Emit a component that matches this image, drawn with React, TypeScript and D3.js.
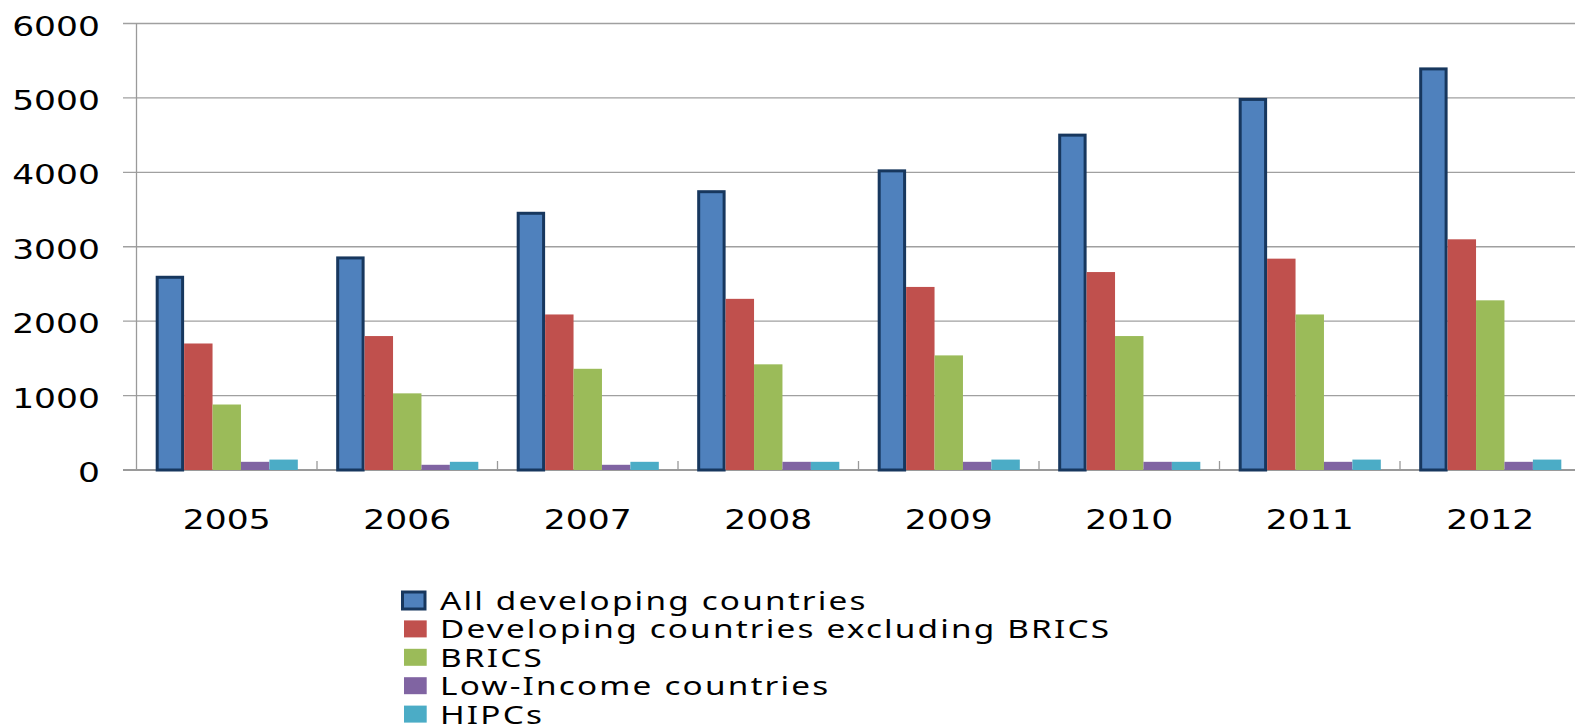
import React from "react";
import * as d3 from "d3";

const years = ["2005", "2006", "2007", "2008", "2009", "2010", "2011", "2012"];
const seriesNames = [
  "All developing countries",
  "Developing countries excluding BRICS",
  "BRICS",
  "Low-Income countries",
  "HIPCs",
];
const allDeveloping = [2610, 2870, 3470, 3760, 4040, 4520, 5000, 5410];
const excludingBrics = [1700, 1800, 2090, 2300, 2460, 2660, 2840, 3100];
const brics = [880, 1030, 1360, 1420, 1540, 1800, 2090, 2280];
const lowIncome = [110, 70, 70, 110, 110, 110, 110, 110];
const hipcs = [140, 110, 110, 110, 140, 110, 140, 140];
const yTicks = [0, 1000, 2000, 3000, 4000, 5000, 6000];
const colors = ["#4F81BD", "#C0504D", "#9BBB59", "#8064A2", "#4BACC6"];

const seriesValues = [allDeveloping, excludingBrics, brics, lowIncome, hipcs];

const W = 1575;
const H = 725;
const plotLeft = 136.5;
const catWidth = 180.5;
const y0 = 470;
const yTop = 23.5;
const gridLeft = 123;

export default function App() {
  const x = d3
    .scaleBand<string>()
    .domain(years)
    .range([plotLeft, plotLeft + catWidth * years.length])
    .paddingInner(0)
    .paddingOuter(0);
  const gap = (x.bandwidth() / (5 + 1.35)) * 1.35;
  const xs = d3
    .scaleBand<number>()
    .domain(d3.range(seriesNames.length))
    .range([gap / 2, x.bandwidth() - gap / 2])
    .padding(0);
  const y = d3.scaleLinear().domain([0, 6000]).range([y0, yTop]);

  const axisFont = "'DejaVu Sans', Verdana, sans-serif";
  const axisFs = 27.4;
  const axisSx = 1.26;
  const legFont = "'Noto Sans', sans-serif";
  const legFs = 24.5;
  const legSx = 1.36;

  return (
    <svg
      width={W}
      height={H}
      style={{ position: "absolute", left: 0, top: 0, background: "#fff" }}
    >
      <rect x={0} y={0} width={W} height={H} fill="#fff" />
      {yTicks.map((t) => (
        <line
          key={"g" + t}
          x1={gridLeft}
          x2={W}
          y1={y(t)}
          y2={y(t)}
          stroke={t === 0 ? "#9a9a9a" : "#a0a0a0"}
          strokeWidth={t === 0 ? 2 : 1.3}
        />
      ))}
      <line x1={plotLeft} x2={plotLeft} y1={yTop} y2={y0} stroke="#9a9a9a" strokeWidth={1.3} />
      {years.map((yr) => (
        <line
          key={"t" + yr}
          x1={(x(yr) as number) + catWidth}
          x2={(x(yr) as number) + catWidth}
          y1={y0 - 9}
          y2={y0}
          stroke="#9a9a9a"
          strokeWidth={1.3}
        />
      ))}
      {yTicks.map((t) => (
        <text
          key={"yl" + t}
          transform={`translate(100,${y(t) + 12}) scale(${axisSx},1)`}
          textAnchor="end"
          fontFamily={axisFont}
          fontSize={axisFs}
          fill="#000"
        >
          {t}
        </text>
      ))}
      {years.map((yr) => (
        <text
          key={"xl" + yr}
          transform={`translate(${(x(yr) as number) + catWidth / 2},528.5) scale(${axisSx},1)`}
          textAnchor="middle"
          fontFamily={axisFont}
          fontSize={axisFs}
          fill="#000"
        >
          {yr}
        </text>
      ))}
      {years.map((yr, i) => (
        <g key={"b" + yr} transform={`translate(${x(yr)},0)`}>
          {seriesValues.map((vals, s) => {
            const bx = xs(s) as number;
            const bw = xs.bandwidth();
            const top = y(vals[i]);
            if (s === 0) {
              return (
                <rect
                  key={s}
                  x={bx + 1.5}
                  y={top + 1.5}
                  width={bw - 3}
                  height={y0 - top - 1.5}
                  fill={colors[s]}
                  stroke="#17375E"
                  strokeWidth={3}
                />
              );
            }
            return (
              <rect
                key={s}
                x={bx}
                y={top}
                width={bw}
                height={y0 - top}
                fill={colors[s]}
              />
            );
          })}
        </g>
      ))}
      {seriesNames.map((name, s) => {
        const cy = 600.5 + s * 28.4;
        return (
          <g key={"l" + s}>
            {s === 0 ? (
              <rect
                x={402.5}
                y={cy - 8.5}
                width={22.5}
                height={17}
                fill={colors[s]}
                stroke="#17375E"
                strokeWidth={3}
              />
            ) : (
              <rect x={404} y={cy - 8.5} width={22.7} height={17} fill={colors[s]} />
            )}
            <text
              transform={`translate(440,${cy + 9.5}) scale(${legSx},1)`}
              fontFamily={legFont}
              fontSize={legFs}
              letterSpacing={1.6}
              fill="#000"
            >
              {name}
            </text>
          </g>
        );
      })}
    </svg>
  );
}
